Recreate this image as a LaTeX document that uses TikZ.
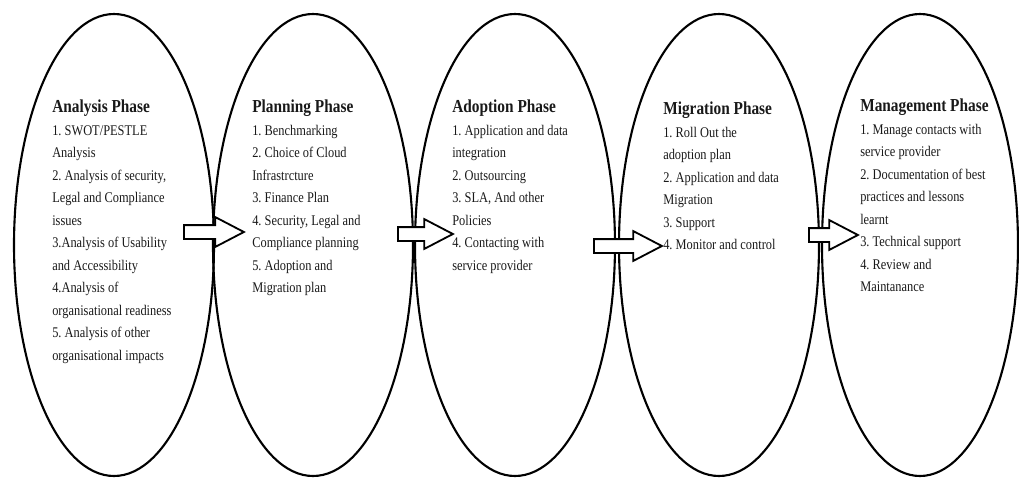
\documentclass[tikz,border=0pt]{standalone}
\usepackage{fontspec}
\setmainfont{Liberation Serif}[FakeStretch=0.84]
\usepackage{tikz}
\usetikzlibrary{positioning,shapes.geometric,shapes.arrows}
\frenchspacing
\newcommand{\fazcim}[1]{{\fontsize{13}{16}\selectfont\bfseries #1}}
\tikzset{
  fazis/.style={ellipse,draw,line width=1.5pt,inner sep=0pt,
    minimum width=5cm,minimum height=11.55cm},
  lista/.style={align=left,anchor=north west,inner sep=0pt,
    font=\fontsize{10.5}{16}\selectfont,text=black!90},
  blokk/.style={single arrow,draw,line width=1.3pt,fill=white,inner sep=0pt,
    inner ysep=0.15cm,single arrow head extend=0.2cm,
    single arrow tip angle=55,anchor=tail},
}
\begin{document}
\begin{tikzpicture}
  \useasboundingbox (0,0) rectangle (25.475,-11.975);
  \node[fazis] (e1) at (2.85,-6.125) {};
  \node[fazis] (e2) at (7.825,-6.125) {};
  \node[fazis] (e3) at (12.875,-6.125) {};
  \node[fazis] (e4) at (17.975,-6.125) {};
  \node[fazis,minimum width=4.9cm] (e5) at (23.0,-6.125) {};
  \node[blokk,minimum height=1.5cm] (n1) at (4.575,-5.8) {};
  \node[blokk,minimum height=1.375cm] (n2) at (9.925,-5.85) {};
  \node[blokk,minimum height=1.7cm] (n3) at (14.825,-6.15) {};
  \node[blokk,minimum height=1.225cm] (n4) at (20.2,-5.875) {};
  \node[lista] (t1) at (1.3,-2.5) {\fazcim{Analysis Phase}\\
    1. SWOT/PESTLE\\ Analysis\\ 2. Analysis of security,\\
    Legal and Compliance\\ issues\\ 3.Analysis of Usability\\
    and Accessibility\\ 4.Analysis of\\ organisational readiness\\
    5. Analysis of other\\ organisational impacts};
  \node[lista] (t2) at (6.3,-2.5) {\fazcim{Planning Phase}\\
    1. Benchmarking\\ 2. Choice of Cloud\\ Infrastrcture\\
    3. Finance Plan\\ 4. Security, Legal and\\ Compliance planning\\
    5. Adoption and\\ Migration plan};
  \node[lista] (t3) at (11.3,-2.5) {\fazcim{Adoption Phase}\\
    1. Application and data\\ integration\\ 2. Outsourcing\\
    3. SLA, And other\\ Policies\\ 4. Contacting with\\ service provider};
  \node[lista] (t4) at (16.575,-2.55) {\fazcim{Migration Phase}\\
    1. Roll Out the\\ adoption plan\\ 2. Application and data\\
    Migration\\ 3. Support\\ 4. Monitor and control};
  \node[lista] (t5) at (21.5,-2.47) {\fazcim{Management Phase}\\
    1. Manage contacts with\\ service provider\\
    2. Documentation of best\\ practices and lessons\\ learnt\\
    3. Technical support\\ 4. Review and\\ Maintanance};
\end{tikzpicture}
\end{document}
